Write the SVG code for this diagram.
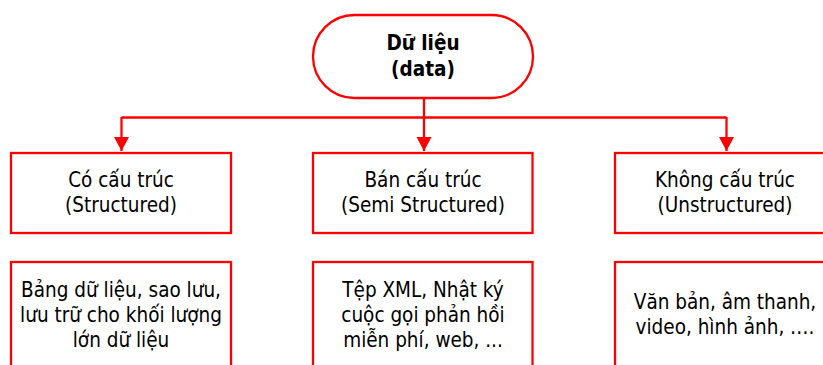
<svg xmlns="http://www.w3.org/2000/svg" width="823" height="365" viewBox="0 0 823 365">
  <style>
    .shape { fill: #ffffff; stroke: #ff0000; stroke-width: 2.3; }
    .link { fill: none; stroke: #ff0000; stroke-width: 2.3; }
    .label { font-family: "DejaVu Sans Condensed", "DejaVu Sans", Verdana, sans-serif; font-stretch: condensed; font-size: 20.5px; fill: #000000; text-anchor: middle; }
    .title { font-family: "DejaVu Sans Condensed", "DejaVu Sans", Verdana, sans-serif; font-stretch: condensed; font-size: 20.5px; font-weight: bold; fill: #000000; text-anchor: middle; }
  </style>
  <defs>
    <marker id="arrow" markerUnits="userSpaceOnUse" markerWidth="16" markerHeight="16" refX="14" refY="7.5" orient="auto">
      <path d="M0,0 L14,7.5 L0,15 Z" fill="#ff0000"/>
    </marker>
  </defs>
  <rect width="823" height="365" fill="#ffffff"/>

  <!-- connectors -->
  <g id="connectors">
    <path class="link" d="M121.5,117.5 H726.5"/>
    <path class="link" d="M121.5,117 V151" marker-end="url(#arrow)"/>
    <path class="link" d="M424,98 V151" marker-end="url(#arrow)"/>
    <path class="link" d="M726.5,117 V151" marker-end="url(#arrow)"/>
  </g>

  <!-- root -->
  <g id="node-data">
    <rect class="shape" x="313" y="15" width="220" height="83" rx="41.5" ry="41.5"/>
    <text class="title" x="423" y="50">Dữ liệu</text>
    <text class="title" x="423" y="75.5">(data)</text>
  </g>

  <!-- categories -->
  <g id="node-structured">
    <rect class="shape" x="11" y="153" width="220" height="80"/>
    <text class="label" x="121" y="186.5">Có cấu trúc</text>
    <text class="label" x="121" y="212">(Structured)</text>
  </g>
  <g id="node-semi">
    <rect class="shape" x="313" y="153" width="219.5" height="80"/>
    <text class="label" x="423" y="186.5">Bán cấu trúc</text>
    <text class="label" x="423" y="212">(Semi Structured)</text>
  </g>
  <g id="node-unstructured">
    <rect class="shape" x="615" y="153" width="220" height="80"/>
    <text class="label" x="725" y="186.5">Không cấu trúc</text>
    <text class="label" x="725" y="212">(Unstructured)</text>
  </g>

  <!-- examples -->
  <g id="node-structured-examples">
    <rect class="shape" x="11" y="262" width="220" height="120"/>
    <text class="label" x="121" y="297">Bảng dữ liệu, sao lưu,</text>
    <text class="label" x="121" y="322">lưu trữ cho khối lượng</text>
    <text class="label" x="121" y="346.5">lớn dữ liệu</text>
  </g>
  <g id="node-semi-examples">
    <rect class="shape" x="313" y="262" width="219.5" height="120"/>
    <text class="label" x="423" y="297">Tệp XML, Nhật ký</text>
    <text class="label" x="423" y="322">cuộc gọi phản hồi</text>
    <text class="label" x="423" y="346.5">miễn phí, web, ...</text>
  </g>
  <g id="node-unstructured-examples">
    <rect class="shape" x="615" y="262" width="220" height="120"/>
    <text class="label" x="725" y="308.5">Văn bản, âm thanh,</text>
    <text class="label" x="725" y="334">video, hình ảnh, ….</text>
  </g>
</svg>
